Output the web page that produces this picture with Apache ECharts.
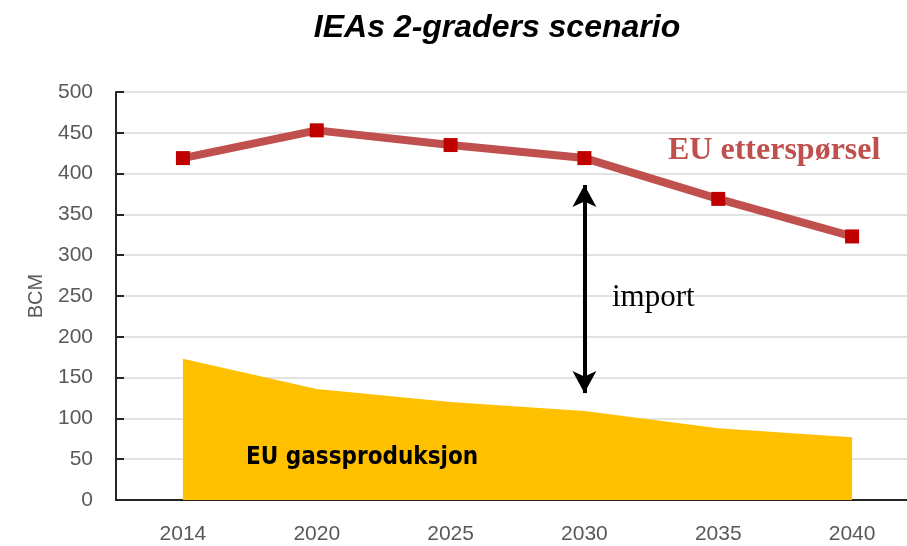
<!DOCTYPE html>
<html>
<head>
<meta charset="utf-8">
<script src="https://cdn.jsdelivr.net/npm/echarts@6/dist/echarts.min.js"></script>
<style>html,body{margin:0;padding:0;background:#fff;overflow:hidden}#c{width:919px;height:546px}</style>
</head>
<body>
<div id="c"></div>
<script>
var categories = ['2014', '2020', '2025', '2030', '2035', '2040'];
var demand = [419, 453, 435, 419, 369, 323];
var production = [173, 136, 120, 109, 88, 77];
var importArrow = { category: '2030', from: 386, to: 131 };
var yTicks = { min: 0, max: 500, interval: 50 };

var chart = echarts.init(document.getElementById('c'));
var labelFont = '"Liberation Sans", Arial, sans-serif';
chart.setOption({
  animation: false,
  grid: { left: 116, right: 0, top: 92, bottom: 46, containLabel: false },
  xAxis: [{
    type: 'category', data: categories, boundaryGap: true,
    axisLine: { lineStyle: { color: '#262626', width: 2 } },
    axisTick: { inside: true, length: 6, lineStyle: { color: '#262626', width: 2 } },
    axisLabel: { color: '#595959', fontFamily: labelFont, fontSize: 21, margin: 24 }
  }, {
    type: 'category', data: categories, boundaryGap: true, position: 'bottom',
    axisLine: { show: false },
    axisTick: { inside: true, alignWithLabel: true, length: 6, lineStyle: { color: '#262626', width: 2 } },
    axisLabel: { show: false }
  }],
  yAxis: {
    type: 'value', min: yTicks.min, max: yTicks.max, interval: yTicks.interval,
    name: 'BCM', nameLocation: 'middle', nameGap: 70, nameRotate: 90,
    nameTextStyle: { color: '#595959', fontFamily: 'Liberation Sans, Arial, sans-serif', fontSize: 20 },
    axisLine: { show: true, lineStyle: { color: '#262626', width: 2 } },
    axisTick: { show: true, inside: true, length: 8, lineStyle: { color: '#262626', width: 2 } },
    axisLabel: { color: '#595959', fontFamily: labelFont, fontSize: 21, margin: 23, padding: [0, 0, 5, 0] },
    splitLine: { lineStyle: { color: '#d9d9d9', width: 1.5 } }
  },
  series: [{
    type: 'line', data: production, xAxisIndex: 0,
    symbol: 'none', lineStyle: { width: 0 },
    areaStyle: { color: '#FFC000', opacity: 1 }, z: 2
  }, {
    type: 'line', data: demand, xAxisIndex: 0,
    symbol: 'rect', symbolSize: 14,
    itemStyle: { color: '#C00000' },
    lineStyle: { color: '#C0504D', width: 8 }, z: 3,
    markLine: {
      silent: true, symbol: ['arrow', 'arrow'], symbolSize: [18, 22],
      label: { show: false },
      lineStyle: { color: '#000', width: 4, type: 'solid' },
      data: [[{ coord: [importArrow.category, importArrow.from] }, { coord: [importArrow.category, importArrow.to] }]]
    }
  }],
  graphic: [
    { type: 'text', x: 497, y: 28, z: 100, style: { text: 'IEAs 2-graders scenario', fill: '#000', align: 'center', verticalAlign: 'middle', font: 'italic bold 32px "Liberation Sans", Arial, sans-serif' } },
    { type: 'text', left: 668, top: 135, z: 100, style: { text: 'EU etterspørsel', fill: '#C0504D', font: 'bold 32px "Liberation Serif", "Times New Roman", serif' } },
    { type: 'text', left: 612, top: 282, z: 100, style: { text: 'import', fill: '#000', font: '31px "Liberation Serif", "Times New Roman", serif' } },
    { type: 'text', left: 246, top: 446, z: 100, style: { text: 'EU gassproduksjon', fill: '#000', font: 'bold 24px "DejaVu Sans Condensed", "Liberation Sans Narrow", sans-serif' } }
  ]
});
</script>
</body>
</html>
